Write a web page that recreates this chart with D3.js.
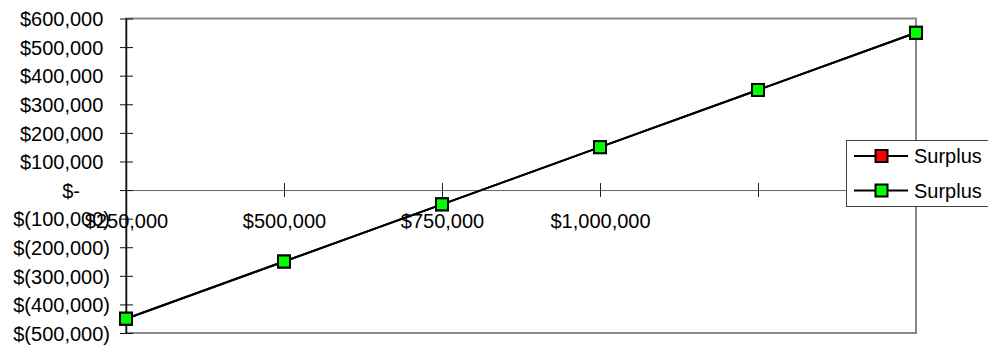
<!DOCTYPE html>
<html>
<head>
<meta charset="utf-8">
<script src="https://cdn.jsdelivr.net/npm/d3@7"></script>
<style>
  html, body { margin: 0; padding: 0; background: #fff; }
  svg { display: block; font-family: Arial, "Liberation Sans", sans-serif; }
</style>
</head>
<body>
<svg id="chart" width="988" height="345"></svg>
<script>
// Revenue levels (category axis) and the surplus at each level
const categories = [250000, 500000, 750000, 1000000, 1250000, 1500000];
const xTickLabels = ["$250,000", "$500,000", "$750,000", "$1,000,000", "", ""];
const surplusA = [-450000, -250000, -50000, 150000, 350000, 550000];
const surplusB = [-450000, -250000, -50000, 150000, 350000, 550000];
const yTicks = [600000, 500000, 400000, 300000, 200000, 100000, 0,
                -100000, -200000, -300000, -400000, -500000];
const seriesNames = ["Surplus", "Surplus"];
const seriesColors = ["#ff0000", "#00ff00"];

const svg = d3.select("#chart");
const plot = { left: 126, right: 916, top: 18.5, bottom: 333 };

const x = d3.scalePoint().domain(categories).range([plot.left, plot.right]);
const y = d3.scaleLinear().domain([-500000, 600000]).range([plot.bottom, plot.top]);

// plot area frame
svg.append("rect")
  .attr("x", plot.left).attr("y", plot.top)
  .attr("width", plot.right - plot.left).attr("height", plot.bottom - plot.top)
  .attr("fill", "#fff").attr("stroke", "#888").attr("stroke-width", 2);

// accounting-style currency labels
const num = d3.format(",");
function money(v) {
  if (v === 0) return "$-";
  return v < 0 ? "$(" + num(-v) + ")" : "$" + num(v);
}

// category axis running along zero
const xAxis = d3.axisBottom(x)
  .tickSize(0)
  .tickFormat((d, i) => xTickLabels[i]);
const gx = svg.append("g").attr("transform", `translate(0,${y(0)})`).call(xAxis);
gx.select(".domain").attr("stroke", "#666").attr("stroke-width", 1);
gx.selectAll(".tick text")
  .attr("y", 0).attr("dy", "1.9em")
  .attr("font-size", 20).attr("fill", "#000")
  .attr("font-family", "Arial, 'Liberation Sans', sans-serif");
gx.selectAll(".tick").append("line")
  .attr("y1", -7).attr("y2", 7)
  .attr("stroke", "#222").attr("stroke-width", 1);

// value axis
const yAxis = d3.axisLeft(y).tickValues(yTicks).tickSize(0).tickFormat(money);
const gy = svg.append("g").attr("transform", `translate(${plot.left},0)`).call(yAxis);
gy.select(".domain").attr("stroke", "#111").attr("stroke-width", 1.5);
gy.selectAll(".tick").append("line")
  .attr("x1", -6).attr("x2", 7)
  .attr("stroke", "#111").attr("stroke-width", 1);
gy.selectAll(".tick text")
  .attr("x", -16)
  .attr("dx", d => d === 0 ? -30 : (d > 0 ? -6.7 : 0))
  .attr("dy", "0.36em")
  .attr("font-size", 20).attr("fill", "#000")
  .attr("font-family", "Arial, 'Liberation Sans', sans-serif");

// series lines and markers
const line = d3.line().x((d, i) => x(categories[i])).y(d => y(d));
const allSeries = [surplusA, surplusB];
allSeries.forEach((vals, s) => {
  svg.append("path")
    .datum(vals)
    .attr("d", line)
    .attr("fill", "none").attr("stroke", "#000").attr("stroke-width", 2);
  svg.append("g").selectAll("rect")
    .data(vals)
    .join("rect")
    .attr("x", (d, i) => x(categories[i]) - 6)
    .attr("y", d => y(d) - 6)
    .attr("width", 12).attr("height", 12)
    .attr("fill", seriesColors[s]).attr("stroke", "#000").attr("stroke-width", 2);
});

// legend
const legend = svg.append("g");
legend.append("rect")
  .attr("x", 846.5).attr("y", 140.5).attr("width", 170).attr("height", 66)
  .attr("fill", "#fff").attr("stroke", "#444").attr("stroke-width", 1);
const rowY = [156, 190.5];
seriesNames.forEach((name, s) => {
  const g = legend.append("g").attr("transform", `translate(0,${rowY[s]})`);
  g.append("line").attr("x1", 854).attr("x2", 908).attr("y1", 0).attr("y2", 0)
    .attr("stroke", "#000").attr("stroke-width", 2);
  g.append("rect").attr("x", 875.5).attr("y", -6).attr("width", 12).attr("height", 12)
    .attr("fill", seriesColors[s]).attr("stroke", "#000").attr("stroke-width", 2);
  g.append("text").attr("x", 914).attr("y", 0).attr("dy", "0.36em")
    .attr("font-size", 20).attr("fill", "#000").text(name);
});
</script>
</body>
</html>
